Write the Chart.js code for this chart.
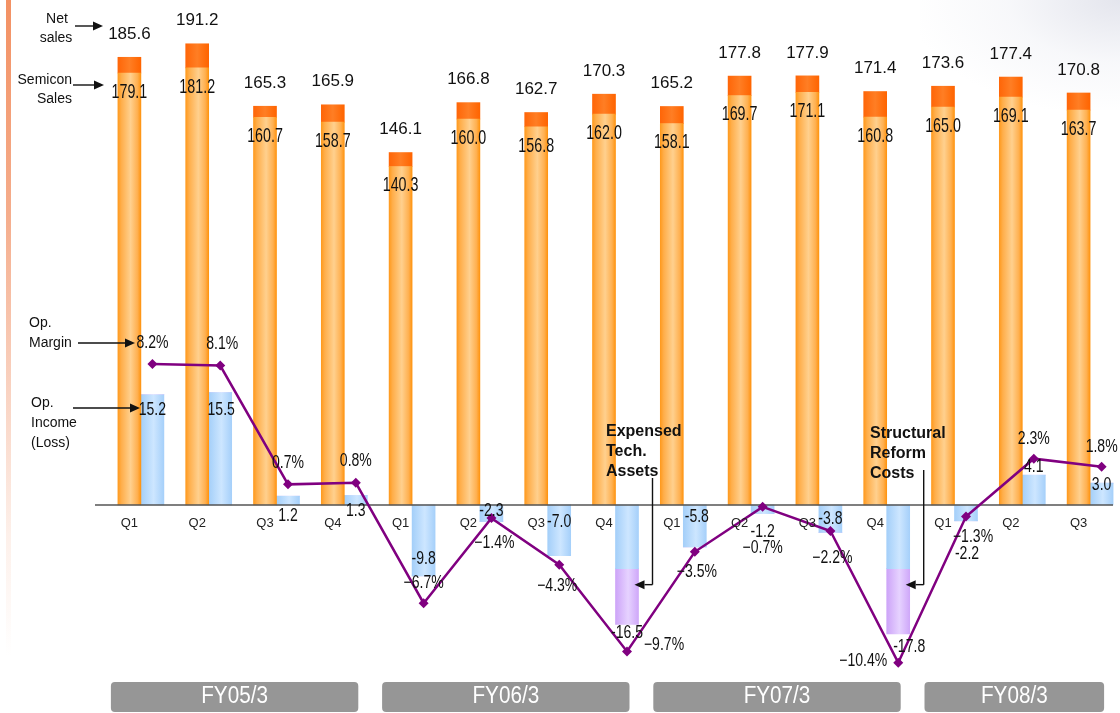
<!DOCTYPE html>
<html>
<head>
<meta charset="utf-8">
<script src="https://cdn.jsdelivr.net/npm/chart.js@4.4.1/dist/chart.umd.min.js"></script>
<style>
  html, body { margin:0; padding:0; width:1120px; height:713px; overflow:hidden; background:#fff; }
  #strip { position:absolute; left:6px; top:0; width:5px; height:713px;
    background:linear-gradient(to bottom, #f39163 0%, #f5ad8c 30%, #f9d3c2 55%, #fdf0ea 75%, #ffffff 92%); }
  #corner { position:absolute; right:0; top:0; width:200px; height:110px;
    background:radial-gradient(ellipse at 100% 0%, rgba(210,212,225,0.6) 0%, rgba(230,232,240,0.3) 40%, rgba(255,255,255,0) 75%); }
  #wrap { position:absolute; left:0; top:0; width:1140px; height:713px; }
</style>
</head>
<body>
<div id="strip"></div>
<div id="corner"></div>
<div id="wrap"><canvas id="c" width="1140" height="713" style="width:1140px;height:713px"></canvas></div>
<script>
// ---------------- DATA ----------------
const quarters = ['Q1','Q2','Q3','Q4','Q1','Q2','Q3','Q4','Q1','Q2','Q3','Q4','Q1','Q2','Q3'];
const fiscalYears = ['FY05/3','FY06/3','FY07/3','FY08/3'];
const quartersPerYear = [4, 4, 4, 3];
const netSales     = [185.6, 191.2, 165.3, 165.9, 146.1, 166.8, 162.7, 170.3, 165.2, 177.8, 177.9, 171.4, 173.6, 177.4, 170.8];
const semiconSales = [179.1, 181.2, 160.7, 158.7, 140.3, 160.0, 156.8, 162.0, 158.1, 169.7, 171.1, 160.8, 165.0, 169.1, 163.7];
const opIncome     = [15.2, 15.5, 1.2, 1.3, -9.8, -2.3, -7.0, -16.5, -5.8, -1.2, -3.8, -17.8, -2.2, 4.1, 3.0];
const specialCharges = [0, 0, 0, 0, 0, 0, 0, -7.7, 0, 0, 0, -9.0, 0, 0, 0];
const opMargin     = [8.2, 8.1, 0.7, 0.8, -6.7, -1.4, -4.3, -9.7, -3.5, -0.7, -2.2, -10.4, -1.3, 2.3, 1.8];
const specialChargeNotes = { 7: ['Expensed', 'Tech.', 'Assets'], 11: ['Structural', 'Reform', 'Costs'] };

// ---------------- LAYOUT CONFIG (label nudges, px) ----------------
const marginLabelNudge = [[0,-21],[2,-21],[0,-21],[0,-22],[0,-20],[3,25],[-2,21],[37,-6],[2,20],[0,41],[2,27],[-35,-2],[7,21],[0,-20],[0,-20]];
const opLabelNudge = [[0,15],[1,17],[0,20],[0,16],[0,-17],[0,-11],[0,-34],[0,9],[2,-30],[0,18],[0,-13],[11,13],[1,33],[0,-8],[0,2]];
const noteLayout = { 7: { left:606, top:432, lineTop:478 }, 11: { left:870, top:434, lineTop:470 } };

const CAT_PCT = 0.68;
const BAR_PX = 23;
const lineShift = CAT_PCT / 4;   // centre of the right-hand (op income) bar, in category units

const otherSales = netSales.map((v, i) => +(v - semiconSales[i]).toFixed(1));
const coreOpIncome = opIncome.map((v, i) => +(v - specialCharges[i]).toFixed(1));

const GRADS = {
  semi:  [[0,'#ff9a1e'],[0.15,'#ffae4a'],[0.55,'#ffd08e'],[0.85,'#ffb050'],[1,'#ff9410']],
  other: [[0,'#ff6608'],[0.5,'#ff7e24'],[1,'#ff6400']],
  op:    [[0,'#a4cff9'],[0.55,'#cde6ff'],[1,'#a6d0fa']],
  spec:  [[0,'#cda4f8'],[0.55,'#e6d2ff'],[1,'#cfa8f9']]
};

const SANS = '"Liberation Sans", Arial, sans-serif';

function txt(ctx, s, x, y, o) {
  o = o || {};
  ctx.save();
  ctx.translate(x, y);
  ctx.scale(o.sx || 1, 1);
  ctx.font = (o.weight || 'normal') + ' ' + (o.size || 14) + 'px ' + SANS;
  ctx.fillStyle = o.color || '#111';
  ctx.textAlign = o.align || 'center';
  ctx.textBaseline = 'middle';
  ctx.fillText(s, 0, 0);
  ctx.restore();
}
function arrow(ctx, x1, y1, x2, y2) {
  ctx.save();
  ctx.strokeStyle = '#111'; ctx.fillStyle = '#111'; ctx.lineWidth = 1.4;
  const a = Math.atan2(y2 - y1, x2 - x1), L = 10, W = 4.5;
  const bx = x2 - L * Math.cos(a), by = y2 - L * Math.sin(a);
  ctx.beginPath(); ctx.moveTo(x1, y1); ctx.lineTo(bx, by); ctx.stroke();
  ctx.beginPath();
  ctx.moveTo(x2, y2);
  ctx.lineTo(bx + W * Math.sin(a), by - W * Math.cos(a));
  ctx.lineTo(bx - W * Math.sin(a), by + W * Math.cos(a));
  ctx.closePath(); ctx.fill();
  ctx.restore();
}
const fmtMargin = v => (v < 0 ? '\u2212' + Math.abs(v).toFixed(1) : v.toFixed(1)) + '%';

const gradientPlugin = {
  id: 'grad',
  beforeDatasetsDraw(chart) {
    const ctx = chart.ctx;
    chart.data.datasets.forEach((ds, di) => {
      if (!ds.gradKey) return;
      chart.getDatasetMeta(di).data.forEach(el => {
        const g = ctx.createLinearGradient(el.x - el.width / 2, 0, el.x + el.width / 2, 0);
        GRADS[ds.gradKey].forEach(s => g.addColorStop(s[0], s[1]));
        el.options.backgroundColor = g;
      });
    });
  },
  beforeDatasetDraw(chart, args) {
    if (chart.data.datasets[args.index].type !== 'line') return;
    const ctx = chart.ctx, y0 = chart.scales.ys.getPixelForValue(0);
    ctx.save();
    ctx.strokeStyle = '#555'; ctx.lineWidth = 1.5;
    ctx.beginPath(); ctx.moveTo(95, y0); ctx.lineTo(1113, y0); ctx.stroke();
    ctx.restore();
  }
};

const labelPlugin = {
  id: 'labels',
  afterDatasetsDraw(chart) {
    const ctx = chart.ctx;
    const mSemi = chart.getDatasetMeta(1), mOther = chart.getDatasetMeta(2);
    const mCore = chart.getDatasetMeta(3), mSpec = chart.getDatasetMeta(4), mLine = chart.getDatasetMeta(0);
    const ys = chart.scales.ys, yo = chart.scales.yo, xs = chart.scales.x;
    const y0 = ys.getPixelForValue(0);

    quarters.forEach((q, i) => {
      const so = mOther.data[i], ss = mSemi.data[i];
      txt(ctx, netSales[i].toFixed(1), so.x, so.y - 23, { size: 17 });
      txt(ctx, semiconSales[i].toFixed(1), ss.x, ss.y + 19, { size: 21, sx: 0.68 });
      txt(ctx, q, ss.x, y0 + 19, { size: 13, color: '#222' });
      const bx = mCore.data[i].x;
      const endY = yo.getPixelForValue(opIncome[i]);
      txt(ctx, opIncome[i].toFixed(1), bx + opLabelNudge[i][0], endY + opLabelNudge[i][1], { size: 18, sx: 0.78 });
      const p = mLine.data[i];
      txt(ctx, fmtMargin(opMargin[i]), p.x + marginLabelNudge[i][0], p.y + marginLabelNudge[i][1], { size: 18, sx: 0.78 });
    });

    let start = 0;
    fiscalYears.forEach((fy, k) => {
      const end = start + quartersPerYear[k] - 1;
      const x1 = xs.getPixelForValue(start) - 30, x2 = xs.getPixelForValue(end) + 14;
      ctx.save();
      ctx.fillStyle = '#969696';
      ctx.beginPath(); ctx.roundRect(x1, 682, x2 - x1, 30, 4); ctx.fill();
      ctx.restore();
      txt(ctx, fy, (x1 + x2) / 2, 697, { size: 23, sx: 0.9, color: '#fff' });
      start = end + 1;
    });

    txt(ctx, 'Net', 57, 19, { size: 14 });
    txt(ctx, 'sales', 56, 38, { size: 14 });
    arrow(ctx, 75, 26, 103, 26);
    txt(ctx, 'Semicon', 72, 80, { size: 14, align: 'right' });
    txt(ctx, 'Sales', 72, 99, { size: 14, align: 'right' });
    arrow(ctx, 73, 85, 104, 85);
    txt(ctx, 'Op.', 29, 323, { size: 14, align: 'left' });
    txt(ctx, 'Margin', 29, 343, { size: 14, align: 'left' });
    arrow(ctx, 78, 343, 135, 343);
    txt(ctx, 'Op.', 31, 403, { size: 14, align: 'left' });
    txt(ctx, 'Income', 31, 423, { size: 14, align: 'left' });
    txt(ctx, '(Loss)', 31, 443, { size: 14, align: 'left' });
    arrow(ctx, 73, 408, 140, 408);

    Object.keys(specialChargeNotes).forEach(key => {
      const i = +key, lay = noteLayout[i];
      specialChargeNotes[i].forEach((line, j) => txt(ctx, line, lay.left, lay.top + j * 20, { size: 16, weight: 'bold', align: 'left' }));
      const el = mSpec.data[i];
      const tipX = el.x + el.width / 2 - 4;
      const tipY = yo.getPixelForValue(coreOpIncome[i]) + 16;
      const vx = tipX + 18;
      ctx.save();
      ctx.strokeStyle = '#111'; ctx.lineWidth = 1.4;
      ctx.beginPath(); ctx.moveTo(vx, lay.lineTop); ctx.lineTo(vx, tipY); ctx.stroke();
      ctx.restore();
      arrow(ctx, vx, tipY, tipX, tipY);
    });
  }
};

const barCommon = { borderWidth: 0, barThickness: BAR_PX, order: 1 };

new Chart(document.getElementById('c'), {
  data: {
    labels: quarters,
    datasets: [
      { type: 'line', label: 'Op. Margin', xAxisID: 'xl', yAxisID: 'yl', order: -1,
        data: opMargin.map((v, i) => ({ x: i + lineShift, y: v })),
        borderColor: '#800080', borderWidth: 2.5, tension: 0,
        pointStyle: 'rectRot', pointRadius: 5, pointBackgroundColor: '#800080', pointBorderColor: '#800080', pointBorderWidth: 0 },
      Object.assign({ type: 'bar', label: 'Semicon Sales', data: semiconSales, stack: 'sales', yAxisID: 'ys', xAxisID: 'x',
        gradKey: 'semi', backgroundColor: () => '#ffb050' }, barCommon),
      Object.assign({ type: 'bar', label: 'Other Sales', data: otherSales, stack: 'sales', yAxisID: 'ys', xAxisID: 'x',
        gradKey: 'other', backgroundColor: () => '#ff6a10' }, barCommon),
      Object.assign({ type: 'bar', label: 'Op. Income (Loss)', data: coreOpIncome, stack: 'op', yAxisID: 'yo', xAxisID: 'x',
        gradKey: 'op', backgroundColor: () => '#b8dbff' }, barCommon),
      Object.assign({ type: 'bar', label: 'Special charges', data: specialCharges, stack: 'op', yAxisID: 'yo', xAxisID: 'x',
        gradKey: 'spec', backgroundColor: () => '#dcc0ff' }, barCommon)
    ]
  },
  options: {
    responsive: false,
    animation: false,
    layout: { padding: { left: 107, right: 16, top: 0, bottom: 0 } },
    plugins: { legend: { display: false }, tooltip: { enabled: false }, title: { display: false } },
    scales: {
      x:  { type: 'category', offset: true, display: false, stacked: true, grid: { display: false } },
      xl: { type: 'linear', min: -0.5, max: 14.5, display: false },
      ys: { type: 'linear', stacked: true, min: -84.22, max: 207.28, display: false },
      yo: { type: 'linear', stacked: true, min: -28.03, max: 68.98, display: false },
      yl: { type: 'linear', min: -13.223, max: 30.546, display: false }
    }
  },
  plugins: [gradientPlugin, labelPlugin]
});
</script>
</body>
</html>
